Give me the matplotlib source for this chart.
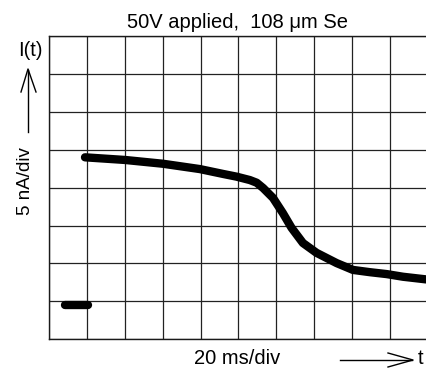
import matplotlib
matplotlib.use("Agg")
import matplotlib.pyplot as plt
from matplotlib.lines import Line2D
import numpy as np

plt.rcParams['font.family'] = ['Liberation Sans', 'DejaVu Sans']

# data: time in ms (20 ms/div), current in nA (5 nA/div)
pre_time_ms = [8.4, 20.6]
pre_current_nA = [4.5, 4.5]

time_ms = [19.0, 40.2, 60.2, 79.6, 92.0, 99.0, 106.0, 109.6, 113.0, 118.2,
           123.4, 128.0, 134.0, 141.2, 151.8, 160.4, 169.4, 178.2, 186.8, 199.0]
current_nA = [24.0, 23.65, 23.15, 22.45, 21.8, 21.45, 21.0, 20.65, 19.95, 18.65,
              16.65, 14.7, 12.7, 11.4, 10.05, 9.15, 8.85, 8.6, 8.25, 7.9]

W, H = 426, 370
fig = plt.figure(figsize=(W / 100, H / 100), dpi=100)
ax = fig.add_axes([49 / W, (H - 339.3) / H, 379 / W, 303.3 / H])
ax.set_xlim(0, 200)
ax.set_ylim(0, 40)
ax.set_xticks(np.arange(0, 201, 20))
ax.set_yticks(np.arange(0, 41, 5))
ax.tick_params(length=0, labelbottom=False, labelleft=False)
ax.grid(True, color='#222222', linewidth=0.9)
for s in ax.spines.values():
    s.set_linewidth(1.0)
    s.set_color('#1a1a1a')

ax.plot(pre_time_ms, pre_current_nA, color='black', linewidth=6,
        solid_capstyle='round', solid_joinstyle='round', zorder=3)
ax.plot(time_ms, current_nA, color='black', linewidth=6,
        solid_capstyle='round', solid_joinstyle='round', zorder=3)

def fx(px):
    return px / W

def fy(py):
    return 1 - py / H

fs = 14.5
fig.text(fx(237.5), fy(23), '50V applied,  108 \u03bcm Se', fontsize=fs, ha='center', va='center')
fig.text(fx(30), fy(51), 'I(t)', fontsize=fs, ha='center', va='center')
fig.text(fx(25), fy(181), '5 nA/div', fontsize=13.5, ha='center', va='center', rotation=90)
fig.text(fx(237.5), fy(359), '20 ms/div', fontsize=fs, ha='center', va='center')
fig.text(fx(421), fy(358), 't', fontsize=fs, ha='center', va='center')

lk = dict(color='black', linewidth=1.0)
# up arrow
fig.add_artist(Line2D([fx(28), fx(28)], [fy(132), fy(70)], **lk))
fig.add_artist(Line2D([fx(21), fx(28), fx(36)], [fy(92), fy(69), fy(92)], **lk))
# right arrow
fig.add_artist(Line2D([fx(340), fx(412)], [fy(360), fy(360)], **lk))
fig.add_artist(Line2D([fx(388), fx(413), fx(388)], [fy(353), fy(360), fy(367)], **lk))

fig.savefig('out.png', dpi=100)
